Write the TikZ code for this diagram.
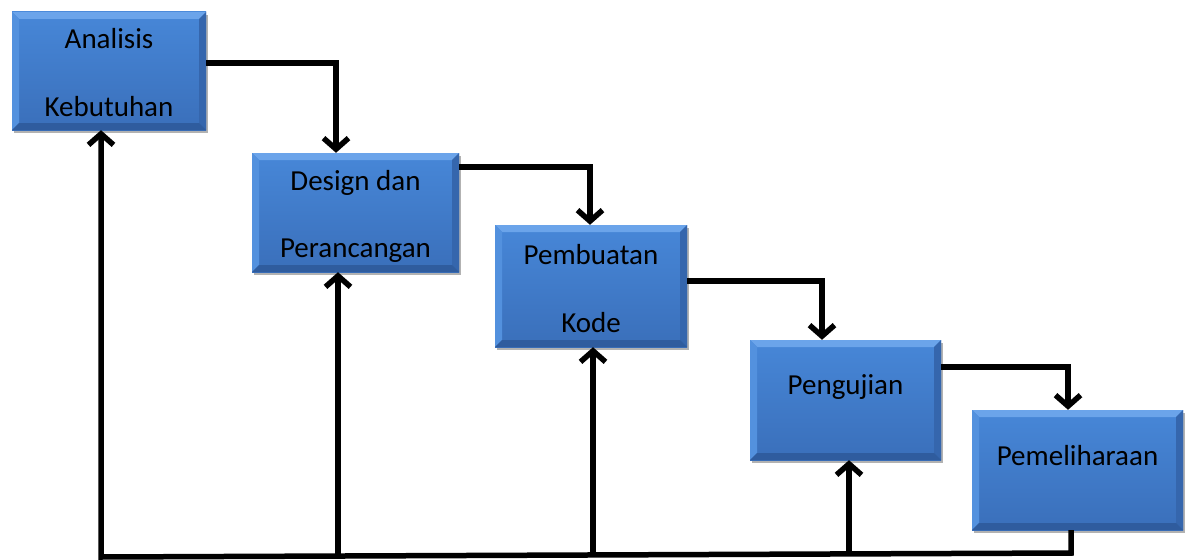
\documentclass[tikz,border=0pt]{standalone}
\usepackage{fontspec}
\setmainfont{Carlito}
\usetikzlibrary{arrows.meta,shadows,calc}
\definecolor{facetop}{HTML}{4787D8}
\definecolor{facebot}{HTML}{3A6FBA}
\definecolor{bevtop}{HTML}{6BA4EA}
\definecolor{bevleft}{HTML}{5391DE}
\definecolor{bevright}{HTML}{3566AD}
\definecolor{bevbot}{HTML}{2F5C9E}
\tikzset{
  stage/.style={rectangle, inner sep=0pt, draw=none,
    top color=facetop, bottom color=facebot,
    drop shadow={shadow xshift=2pt, shadow yshift=-3pt, opacity=0.3, fill=black},
    path picture={
      \coordinate (pa) at (path picture bounding box.north west);
      \coordinate (pb) at (path picture bounding box.north east);
      \coordinate (pc) at (path picture bounding box.south east);
      \coordinate (pd) at (path picture bounding box.south west);
      \coordinate (qa) at ([xshift=7pt,yshift=-7pt]pa);
      \coordinate (qb) at ([xshift=-7pt,yshift=-7pt]pb);
      \coordinate (qc) at ([xshift=-7pt,yshift=7pt]pc);
      \coordinate (qd) at ([xshift=7pt,yshift=7pt]pd);
      \fill[bevtop] (pa)--(pb)--(qb)--(qa)--cycle;
      \fill[bevleft] (pa)--(qa)--(qd)--(pd)--cycle;
      \fill[bevright] (pb)--(pc)--(qc)--(qb)--cycle;
      \fill[bevbot] (pd)--(qd)--(qc)--(pc)--cycle;
    }},
  lbl/.style={anchor=base, font=\fontsize{29}{31}\selectfont, text=black, inner sep=0pt},
  flow/.style={line width=5.5pt, line join=miter, -{Straight Barb[length=11pt,width=25pt]}}
}
\begin{document}
\begin{tikzpicture}[x=1pt,y=-1pt]
\useasboundingbox (0,0) rectangle (1190,559);
\fill[white] (0,0) rectangle (1190,559);

\node[stage, minimum width=194pt, minimum height=118pt] (b1) at (109,71) {};
\node[stage, minimum width=207pt, minimum height=119pt] (b2) at (355.5,212.5) {};
\node[stage, minimum width=192pt, minimum height=122pt] (b3) at (591,286) {};
\node[stage, minimum width=191pt, minimum height=120pt] (b4) at (845.5,400) {};
\node[stage, minimum width=211pt, minimum height=120pt] (b5) at (1077.5,470) {};

\node[lbl] (t1a) at (109,49) {Analisis};
\node[lbl] (t1b) at (109,117) {Kebutuhan};
\node[lbl] (t2a) at (355.5,190) {Design dan};
\node[lbl] (t2b) at (355.5,257) {Perancangan};
\node[lbl] (t3a) at (591,264) {Pembuatan};
\node[lbl] (t3b) at (591,332) {Kode};
\node[lbl] (t4) at (845.5,394) {Pengujian};
\node[lbl] (t5) at (1077.5,465) {Pemeliharaan};

\draw[flow] ([yshift=8pt]b1.east) -| ([xshift=-19.5pt]b2.north);
\draw[flow] ([yshift=45.5pt]b2.east) -| ([xshift=-1pt]b3.north);
\draw[flow] ([yshift=5pt]b3.east) -| ([xshift=-23.5pt]b4.north);
\draw[flow] ([yshift=33pt]b4.east) -| ([xshift=-9.5pt]b5.north);

\coordinate (br) at (1071,553);
\coordinate (bl) at (101,557);
\coordinate (r2) at (338,556);
\coordinate (r3) at (593,555);
\coordinate (r4) at (849,554);
\draw[flow] (b5.south -| br) -- (br) -- (bl) -- (b1.south -| bl);
\draw[flow] (r2) -- (b2.south -| r2);
\draw[flow] (r3) -- (b3.south -| r3);
\draw[flow] (r4) -- (b4.south -| r4);
\end{tikzpicture}
\end{document}
